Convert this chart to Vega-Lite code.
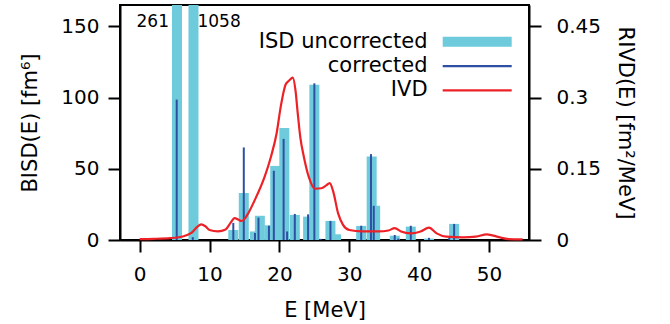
{
  "$schema": "https://vega.github.io/schema/vega-lite/v6.json",
  "width": 409,
  "height": 235,
  "autosize": {"type": "none"},
  "padding": {"left": 120, "top": 5, "right": 141, "bottom": 84},
  "background": "white",
  "config": {
    "font": "DejaVu Sans",
    "view": {"stroke": "black", "strokeWidth": 2},
    "axis": {
      "domainColor": "black", "domainWidth": 2,
      "tickColor": "black", "tickWidth": 2, "tickSize": 12,
      "labelFont": "DejaVu Sans", "labelFontSize": 20, "labelColor": "black",
      "titleFont": "DejaVu Sans", "titleFontSize": 21, "titleFontWeight": "normal", "titleColor": "black",
      "grid": false
    }
  },
  "datasets": {
    "isd": [
      {"E": 5.34, "B": 261}, {"E": 7.7, "B": 1058}, {"E": 13.4, "B": 7}, {"E": 14.9, "B": 33},
      {"E": 16.5, "B": 6}, {"E": 17.2, "B": 17}, {"E": 18.6, "B": 10.3}, {"E": 19.4, "B": 52},
      {"E": 20.7, "B": 78.6}, {"E": 22.2, "B": 17.6}, {"E": 24.1, "B": 16.4}, {"E": 25.0, "B": 109},
      {"E": 28.1, "B": 4}, {"E": 27.3, "B": 13.4}, {"E": 31.7, "B": 9.9}, {"E": 33.7, "B": 24},
      {"E": 33.2, "B": 58.7}, {"E": 36.5, "B": 3}, {"E": 38.8, "B": 9.4}, {"E": 41.4, "B": 1},
      {"E": 45.0, "B": 11.3}
    ],
    "corr": [
      {"E": 5.3, "B": 98.6}, {"E": 7.6, "B": 2}, {"E": 13.4, "B": 12}, {"E": 14.9, "B": 65},
      {"E": 16.5, "B": 5}, {"E": 17.0, "B": 15.7}, {"E": 18.5, "B": 10}, {"E": 19.2, "B": 48.6},
      {"E": 20.6, "B": 71}, {"E": 21.1, "B": 6}, {"E": 22.2, "B": 18.3}, {"E": 24.1, "B": 18},
      {"E": 25.0, "B": 110}, {"E": 25.9, "B": 0.8}, {"E": 27.3, "B": 13.4}, {"E": 31.7, "B": 10},
      {"E": 33.1, "B": 60.3}, {"E": 33.5, "B": 24}, {"E": 36.5, "B": 3.5}, {"E": 37.0, "B": 1},
      {"E": 38.8, "B": 10}, {"E": 41.4, "B": 1.5}, {"E": 44.3, "B": 1.5}, {"E": 45.0, "B": 11.3}
    ],
    "ivd": [
      {"E": 0, "R": 0.002}, {"E": 2, "R": 0.0025}, {"E": 4.4, "R": 0.004}, {"E": 6.3, "R": 0.008},
      {"E": 7.4, "R": 0.015}, {"E": 8.2, "R": 0.027}, {"E": 8.8, "R": 0.033}, {"E": 9.4, "R": 0.029},
      {"E": 10, "R": 0.021}, {"E": 11.2, "R": 0.018}, {"E": 12.3, "R": 0.022}, {"E": 13.0, "R": 0.036},
      {"E": 13.6, "R": 0.046}, {"E": 14.1, "R": 0.043}, {"E": 14.6, "R": 0.04}, {"E": 15.1, "R": 0.046},
      {"E": 15.6, "R": 0.058}, {"E": 16.5, "R": 0.085}, {"E": 17.9, "R": 0.134}, {"E": 18.8, "R": 0.176},
      {"E": 19.6, "R": 0.225}, {"E": 20.2, "R": 0.282}, {"E": 20.9, "R": 0.328}, {"E": 21.4, "R": 0.336},
      {"E": 21.9, "R": 0.342}, {"E": 22.3, "R": 0.315}, {"E": 22.6, "R": 0.27}, {"E": 23.0, "R": 0.215},
      {"E": 23.5, "R": 0.175}, {"E": 24.2, "R": 0.133}, {"E": 25.1, "R": 0.108}, {"E": 26.0, "R": 0.109},
      {"E": 26.7, "R": 0.115}, {"E": 27.2, "R": 0.12}, {"E": 27.7, "R": 0.102}, {"E": 28.4, "R": 0.056},
      {"E": 29.1, "R": 0.032}, {"E": 30.0, "R": 0.021}, {"E": 31.8, "R": 0.018}, {"E": 34.2, "R": 0.018},
      {"E": 35.6, "R": 0.02}, {"E": 36.5, "R": 0.025}, {"E": 37.4, "R": 0.018}, {"E": 38.8, "R": 0.014},
      {"E": 40.2, "R": 0.018}, {"E": 41.4, "R": 0.026}, {"E": 42.5, "R": 0.014}, {"E": 43.9, "R": 0.007},
      {"E": 46.3, "R": 0.0057}, {"E": 48.1, "R": 0.007}, {"E": 49.7, "R": 0.012}, {"E": 51.4, "R": 0.006},
      {"E": 52.8, "R": 0.002}, {"E": 54.8, "R": 0.0015}
    ]
  },
  "encoding": {
    "x": {
      "field": "E", "type": "quantitative",
      "scale": {"domain": [-2.1, 55], "nice": false, "zero": false},
      "axis": {"title": "E [MeV]", "values": [0, 10, 20, 30, 40, 50], "format": "d", "labelPadding": 12, "titlePadding": 15}
    }
  },
  "layer": [
    {
      "layer": [
        {
          "data": {"name": "isd"},
          "mark": {"type": "bar", "size": 10, "clip": true, "color": "#6dcbdc"},
          "encoding": {
            "y": {
              "field": "B", "type": "quantitative",
              "scale": {"domain": [0, 165], "nice": false},
              "axis": {"title": "BISD(E) [fm⁶]", "values": [0, 50, 100, 150], "format": "d", "labelPadding": 9, "titlePadding": 20}
            },
            "color": {
              "datum": "ISD uncorrected",
              "scale": {"domain": ["ISD uncorrected", "corrected", "IVD"], "range": ["#6dcbdc", "#2f4fa2", "#ec2227"]},
              "legend": {
                "orient": "none", "legendX": 346.7, "legendY": 26.3, "direction": "vertical",
                "title": null, "padding": 0,
                "labelFont": "DejaVu Sans", "labelFontSize": 21, "labelColor": "black", "labelLimit": 0,
                "labelAlign": "right", "labelOffset": -60.1, "symbolOffset": 0,
                "symbolSize": 400, "symbolStrokeWidth": 0, "rowPadding": 2.3,
                "encode": {
                  "symbols": {
                    "update": {
                      "shape": {"signal": "datum.value === 'ISD uncorrected' ? 'M-3.45,-0.5H3.45V0.5H-3.45Z' : 'M-3.45,-0.11H3.45V0.11H-3.45Z'"},
                      "fill": {"signal": "scale('color', datum.value)"},
                      "stroke": {"value": "transparent"},
                      "strokeWidth": {"value": 0},
                      "opacity": {"value": 1},
                      "size": {"value": 400}
                    }
                  }
                }
              }
            }
          }
        },
        {
          "data": {"name": "corr"},
          "mark": {"type": "bar", "size": 2, "clip": true, "color": "#2f4fa2"},
          "encoding": {
            "y": {"field": "B", "type": "quantitative"},
            "color": {"datum": "corrected"}
          }
        },
        {
          "data": {"name": "isd"},
          "transform": [{"filter": "datum.B == 261"}],
          "mark": {"type": "text", "align": "right", "baseline": "middle", "dx": -8, "fontSize": 17, "font": "DejaVu Sans", "color": "black"},
          "encoding": {
            "y": {"datum": 153, "type": "quantitative"},
            "text": {"field": "B", "type": "nominal"}
          }
        },
        {
          "data": {"name": "isd"},
          "transform": [{"filter": "datum.B == 1058"}],
          "mark": {"type": "text", "align": "left", "baseline": "middle", "dx": 4, "fontSize": 17, "font": "DejaVu Sans", "color": "black"},
          "encoding": {
            "y": {"datum": 153, "type": "quantitative"},
            "text": {"field": "B", "type": "nominal"}
          }
        }
      ]
    },
    {
      "data": {"name": "ivd"},
      "mark": {"type": "line", "strokeWidth": 2.2, "interpolate": "monotone", "color": "#ec2227"},
      "encoding": {
        "y": {
          "field": "R", "type": "quantitative",
          "scale": {"domain": [0, 0.495], "nice": false},
          "axis": {"orient": "right", "title": "RIVD(E) [fm²/MeV]", "values": [0, 0.15, 0.3, 0.45], "format": ".2~f", "labelPadding": 15, "titlePadding": 14}
        },
        "color": {"datum": "IVD"}
      }
    }
  ],
  "resolve": {"scale": {"y": "independent"}}
}
